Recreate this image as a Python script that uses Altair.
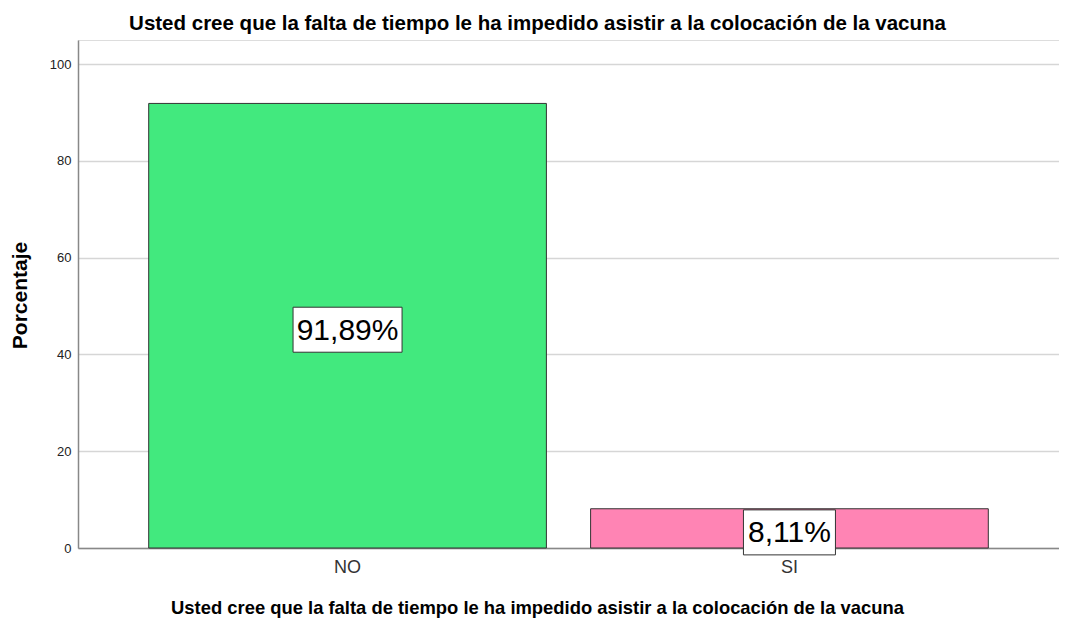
import altair as alt
import pandas as pd

categories = ["NO", "SI"]
percentages = [91.89, 8.11]
labels = ["91,89%", "8,11%"]
colors = ["#42E97E", "#FF84B4"]

title_text = "Usted cree que la falta de tiempo le ha impedido asistir a la colocación de la vacuna"

df = pd.DataFrame({"cat": categories, "pct": percentages, "label": labels})

FONT = "Liberation Sans"

x_enc = alt.X(
    "cat:N",
    sort=categories,
    scale=alt.Scale(paddingInner=0.1, paddingOuter=0.16),
    axis=alt.Axis(
        title=title_text,
        titleFont=FONT, titleFontSize=18.4, titleFontWeight="bold", titleColor="#000",
        titleX=459, titleAlign="center", titleY=59, titleBaseline="middle",
        labelFont=FONT, labelFontSize=18, labelColor="#333", labelAngle=0, labelPadding=10,
        ticks=False, domainColor="#888", domainWidth=1.5, grid=False,
    ),
)

bars = alt.Chart(df).mark_bar(stroke="#333", strokeWidth=1).encode(
    x=x_enc,
    y=alt.Y(
        "pct:Q",
        scale=alt.Scale(domain=[0, 105], nice=False),
        axis=alt.Axis(
            title="Porcentaje", values=[0, 20, 40, 60, 80, 100],
            titleFont=FONT, titleFontSize=21, titleFontWeight="bold", titleColor="#000",
            titleX=-58, titleY=255, titleAlign="center", titleBaseline="middle",
            labelFont=FONT, labelFontSize=13, labelColor="#222", labelPadding=7,
            ticks=False, domainColor="#888", domainWidth=1.5,
            grid=True, gridColor="#D6D6D6", gridWidth=1.5,
        ),
    ),
    color=alt.Color("cat:N", scale=alt.Scale(domain=categories, range=colors), legend=None),
)

box_widths = {"NO": 109, "SI": 92}
boxes = []
for c in categories:
    boxes.append(
        alt.Chart(df).transform_filter(alt.datum.cat == c)
        .transform_calculate(mid="datum.pct / 2")
        .mark_rect(width=box_widths[c], height=45, fill="white", stroke="#333", strokeWidth=1, yOffset=4)
        .encode(x=alt.X("cat:N", sort=categories), y=alt.Y("mid:Q"))
    )

texts = alt.Chart(df).transform_calculate(mid="datum.pct / 2").mark_text(
    font=FONT, fontSize=30, color="#000", baseline="middle", dy=5
).encode(x=alt.X("cat:N", sort=categories), y=alt.Y("mid:Q"), text="label:N")

chart = alt.layer(bars, *boxes, texts).properties(
    width=981, height=508,
    title=alt.TitleParams(title_text, font=FONT, fontSize=20.5, fontWeight="bold",
                          color="#000", anchor="middle", dx=-31, offset=6),
    autosize=alt.AutoSizeParams(type="none"),
    padding={"left": 70, "top": 32, "right": 0, "bottom": 72},
).configure_view(stroke=None).configure(background="white")

chart.save("out.html", embed_options={"renderer": "svg", "actions": False})
